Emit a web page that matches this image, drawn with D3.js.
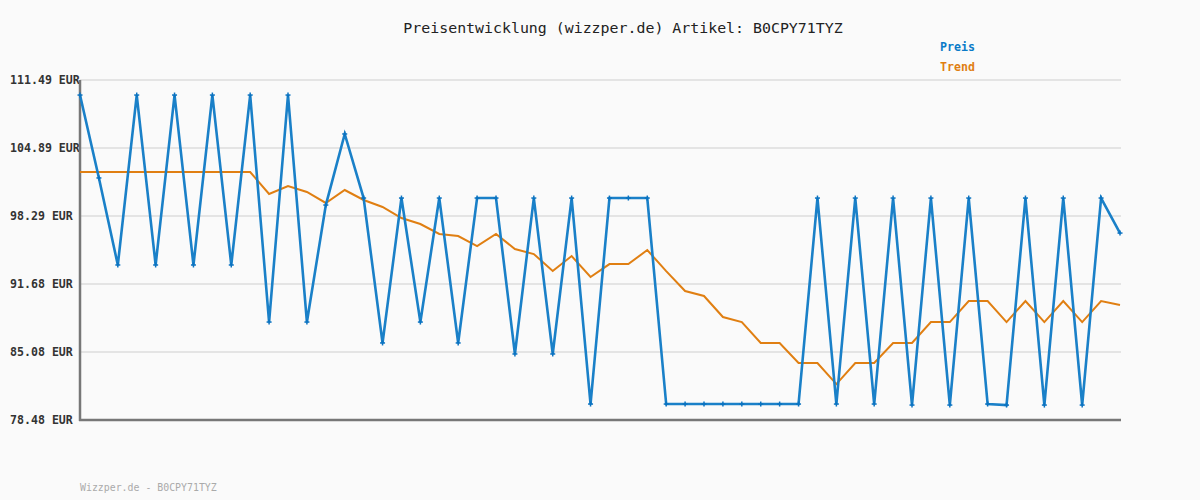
<!DOCTYPE html>
<html><head><meta charset="utf-8">
<script src="https://cdn.jsdelivr.net/npm/d3@7"></script>
<style>html,body{margin:0;padding:0;background:#fafafa;}svg{display:block;}</style>
</head><body>
<svg id="c" width="1200" height="500"></svg>
<script>
const title = "Preisentwicklung (wizzper.de) Artikel: B0CPY71TYZ";
const footer = "Wizzper.de - B0CPY71TYZ";
const yTicks = [78.48, 85.08, 91.68, 98.29, 104.89, 111.49];
const preis = [110.03,101.98,93.53,110.03,93.53,110.03,93.53,110.03,93.53,110.03,
  87.99,110.03,87.99,99.35,106.25,100.03,85.96,100.03,87.99,100.03,
  85.96,100.03,100.03,84.89,100.03,84.89,100.03,80.03,100.03,100.03,
  100.03,80.03,80.03,80.03,80.03,80.03,80.03,80.03,80.03,100.03,
  80.03,100.03,80.03,100.03,79.93,100.03,79.93,100.03,80.03,79.93,
  100.03,79.93,100.03,79.93,100.03,96.63];
const trend = [102.56,102.56,102.56,102.56,102.56,102.56,102.56,102.56,102.56,102.56,
  100.42,101.20,100.62,99.55,100.81,99.84,99.16,98.09,97.51,96.54,
  96.34,95.37,96.54,95.08,94.59,92.94,94.40,92.36,93.62,93.62,
  94.98,92.94,91.00,90.52,88.48,87.99,85.96,85.96,84.01,84.01,
  81.97,84.01,84.01,85.96,85.96,87.99,87.99,90.03,90.03,87.99,
  90.03,87.99,90.03,87.99,90.03,89.65];

const svg = d3.select("#c");
const W = 1200, H = 500;
const m = {l:80, r:1121, t:80, b:420};
svg.append("rect").attr("width",W).attr("height",H).attr("fill","#fafafa");

const x = d3.scaleLinear().domain([0, preis.length-1]).range([80, 1120]);
const y = d3.scaleLinear().domain([78.48, 111.49]).range([m.b, m.t]);

// gridlines
svg.append("g").selectAll("line").data(yTicks).join("line")
  .attr("x1", m.l).attr("x2", m.r)
  .attr("y1", d=>y(d)).attr("y2", d=>y(d))
  .attr("stroke","#e4e4e4").attr("stroke-width",2);

// y labels
svg.append("g").selectAll("text").data(yTicks).join("text")
  .attr("x", 10).attr("y", d=>y(d)+4)
  .attr("font-family","DejaVu Sans Mono, monospace").attr("font-size",11.6)
  .attr("font-weight","bold").attr("fill","#333")
  .text(d=>d.toFixed(2)+" EUR");

// axes
svg.append("line").attr("x1",m.l).attr("x2",m.l).attr("y1",m.t).attr("y2",m.b+1)
  .attr("stroke","#777").attr("stroke-width",2.5);
svg.append("line").attr("x1",m.l-1).attr("x2",m.r).attr("y1",m.b).attr("y2",m.b)
  .attr("stroke","#777").attr("stroke-width",2.5);

const line = d3.line().x((d,i)=>x(i)).y(d=>y(d));
svg.append("path").datum(trend).attr("d",line).attr("fill","none")
  .attr("stroke","#e07f12").attr("stroke-width",2);
svg.append("path").datum(preis).attr("d",line).attr("fill","none")
  .attr("stroke","#1a80c8").attr("stroke-width",2.6);

// markers (small crosses)
const mk = svg.append("g").selectAll("g").data(preis).join("g")
  .attr("transform",(d,i)=>`translate(${x(i)},${y(d)})`);
mk.append("line").attr("x1",-2.5).attr("x2",2.5).attr("stroke","#0a72c0").attr("stroke-width",1.5);
mk.append("line").attr("y1",-2.5).attr("y2",2.5).attr("stroke","#0a72c0").attr("stroke-width",1.5);

// title
svg.append("text").attr("x",623).attr("y",33).attr("text-anchor","middle")
  .attr("font-family","DejaVu Sans Mono, monospace").attr("font-size",14.9)
  .attr("fill","#222").text(title);

// legend
svg.append("text").attr("x",940).attr("y",51)
  .attr("font-family","DejaVu Sans Mono, monospace").attr("font-size",11.6)
  .attr("font-weight","bold").attr("fill","#0a7ac8").text("Preis");
svg.append("text").attr("x",940).attr("y",71)
  .attr("font-family","DejaVu Sans Mono, monospace").attr("font-size",11.6)
  .attr("font-weight","bold").attr("fill","#e07f12").text("Trend");

// footer
svg.append("text").attr("x",80).attr("y",491)
  .attr("font-family","DejaVu Sans Mono, monospace").attr("font-size",9.9)
  .attr("fill","#aaa").text(footer);
</script>
</body></html>
